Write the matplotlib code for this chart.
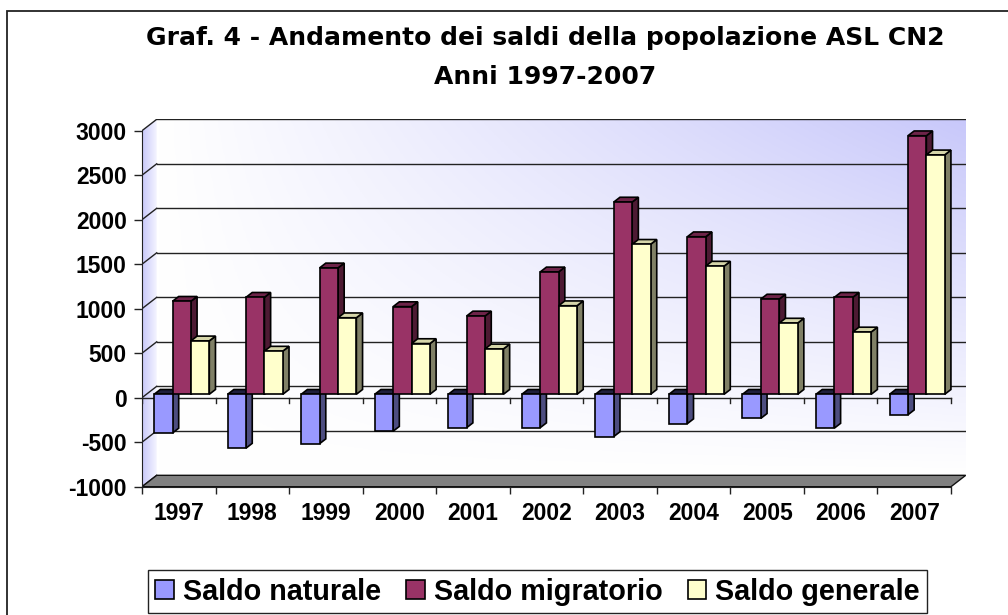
import numpy as np
import matplotlib.pyplot as plt
from matplotlib.patches import Polygon, Rectangle, Patch

# data
years = ['1997', '1998', '1999', '2000', '2001', '2002', '2003', '2004', '2005', '2006', '2007']
saldo_naturale = [-435, -605, -555, -415, -375, -375, -475, -330, -270, -380, -230]
saldo_migratorio = [1045, 1090, 1420, 985, 880, 1375, 2160, 1770, 1070, 1090, 2905]
saldo_generale = [600, 485, 860, 570, 510, 995, 1685, 1440, 800, 700, 2690]
series_names = ['Saldo naturale', 'Saldo migratorio', 'Saldo generale']
yticks = [-1000, -500, 0, 500, 1000, 1500, 2000, 2500, 3000]

front_cols = ['#9999ff', '#993366', '#ffffcc']
side_cols = ['#4d4d80', '#4d1a33', '#808066']
top_cols = ['#1f1f3d', '#6e2449', '#d6d6aa']

# fake 3d: depth of the walls (category units / value units)
DX, DY = 0.2, 128
f0, f1 = 0.3, 0.72          # bar row sits between these fractions of the depth
bw, boff = 0.25, 0.105

n = len(years)
ymin, ymax = yticks[0], yticks[-1]

fig = plt.figure(figsize=(10.08, 6.15), dpi=100)
ax_w = (951 - 142) / 1008 * (n + DX) / n
ax_h = (486.7 - 130.7) / 615 * (ymax - ymin + DY) / (ymax - ymin)
ax = fig.add_axes([142 / 1008, 1 - 486.7 / 615, ax_w, ax_h])
ax.patch.set_visible(False)

# back wall gradient (white bottom-left -> lavender top-right)
gx, gy = np.meshgrid(np.linspace(0, 1, 200), np.linspace(0, 1, 200))
t = (gx * gy)[..., None]
lav = np.array([200, 200, 250]) / 255
wall = (1 - t) * np.ones(3) + t * lav
ax.imshow(wall, extent=(DX, n + DX, ymin + DY, ymax + DY), origin='lower',
          aspect='auto', zorder=0)

# left side wall, bluish gradient
lw_poly = Polygon([(0, ymin), (0, ymax), (DX, ymax + DY), (DX, ymin + DY)],
                  closed=True, facecolor='none', edgecolor='none')
ax.add_patch(lw_poly)
tl = np.linspace(0, 1, 50)[None, :, None] * np.ones((50, 1, 1))
side = (1 - tl) * np.array([200, 200, 250]) / 255 + tl * np.array([245, 245, 255]) / 255
im = ax.imshow(side, extent=(0, DX, ymin, ymax + DY), origin='lower', aspect='auto', zorder=0)
im.set_clip_path(lw_poly)
ax.set_xlim(0, n + DX)
ax.set_ylim(ymin, ymax + DY)

# gridlines on back wall + diagonals on the side wall
for v in yticks:
    if v > ymin:
        ax.plot([DX, n + DX], [v + DY, v + DY], color='#222222', lw=1, zorder=1)
    ax.plot([0, DX], [v, v + DY], color='#222222', lw=1, zorder=1)

# floor
floor = Polygon([(0, ymin), (n, ymin), (n + DX, ymin + DY), (DX, ymin + DY)],
                closed=True, facecolor='#808080', edgecolor='#111111', lw=1, zorder=1)
ax.add_patch(floor)

# category axis at zero
ax.plot([0, n], [0, 0], color='#222222', lw=1, zorder=1)
for i in range(n + 1):
    ax.plot([i, i], [0, -60], color='#222222', lw=1, zorder=1)

# bars
b = f0 * DY
ddx, ddy = (f1 - f0) * DX, (f1 - f0) * DY
for s, vals in enumerate([saldo_naturale, saldo_migratorio, saldo_generale]):
    xs = [i + boff + s * bw + f0 * DX for i in range(n)]
    for x0, v in zip(xs, vals):
        sidep = Polygon([(x0 + bw, b), (x0 + bw, b + v), (x0 + bw + ddx, b + v + ddy),
                         (x0 + bw + ddx, b + ddy)], closed=True, facecolor=side_cols[s],
                        edgecolor='black', lw=1.2, zorder=3 + 2 * s)
        yt = max(b, b + v)
        topp = Polygon([(x0, yt), (x0 + bw, yt), (x0 + bw + ddx, yt + ddy), (x0 + ddx, yt + ddy)],
                       closed=True, facecolor=top_cols[s], edgecolor='black', lw=1.2,
                       zorder=3 + 2 * s)
        ax.add_patch(sidep)
        ax.add_patch(topp)
    ax.bar(xs, vals, bw, bottom=b, align='edge', color=front_cols[s],
           edgecolor='black', lw=1.2, zorder=4 + 2 * s)

# axes
for sp in ['top', 'right']:
    ax.spines[sp].set_visible(False)
ax.spines['left'].set_bounds(ymin, ymax)
ax.spines['bottom'].set_bounds(0, n)
ax.spines['left'].set_color('#222222')
ax.spines['bottom'].set_color('#222222')

lab_font = dict(family='Liberation Sans', weight='bold', size=16.5)
ax.set_yticks(yticks)
ax.set_yticklabels([str(v) for v in yticks], fontdict=lab_font)
ax.tick_params(axis='y', length=6, width=1, pad=5, color='#222222')
ax.set_xticks([i + 0.5 for i in range(n)])
ax.set_xticklabels(years, fontdict=lab_font)
ax.tick_params(axis='x', which='major', length=0, pad=11)
ax.set_xticks(range(n + 1), minor=True)
ax.tick_params(axis='x', which='minor', length=5, width=1, color='#222222')

# title
fig.text(545 / 1008, 1 - 38 / 615, 'Graf. 4 - Andamento dei saldi della popolazione ASL CN2',
         ha='center', va='center', family='DejaVu Sans', weight='bold', size=18)
fig.text(545 / 1008, 1 - 77 / 615, 'Anni 1997-2007',
         ha='center', va='center', family='DejaVu Sans', weight='bold', size=18)

# legend
handles = [Patch(facecolor=c, edgecolor='black', lw=1.2) for c in front_cols]
leg = fig.legend(handles, series_names, loc='center', bbox_to_anchor=(537.5 / 1008, 1 - 591.5 / 615),
                 ncol=3, fancybox=False, edgecolor='#222222', framealpha=1,
                 prop=dict(family='Liberation Sans', weight='bold', size=20.7),
                 handlelength=0.65, handleheight=0.65, handletextpad=0.32,
                 columnspacing=0.87, borderpad=0.25)
leg.get_frame().set_linewidth(1)

# outer chart border
fig.patches.append(Rectangle((7 / 1008, -0.1), 1.2, 1.1 - 11 / 615, transform=fig.transFigure,
                             fill=False, edgecolor='#222222', lw=1.3))

fig.savefig('out.png', dpi=100)
